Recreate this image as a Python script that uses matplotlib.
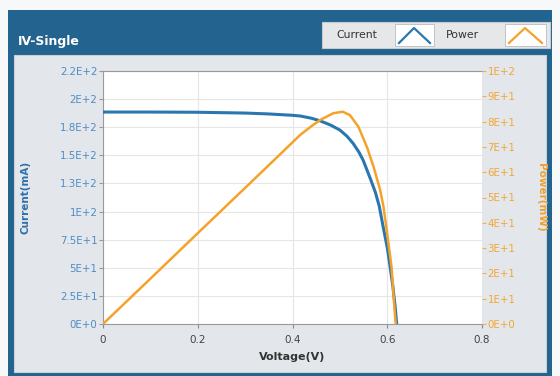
import matplotlib
matplotlib.use("Agg")
import matplotlib.pyplot as plt
from matplotlib.patches import Rectangle
from matplotlib.lines import Line2D

plt.rcParams['font.family'] = ['DejaVu Sans']

# ----------------------------------------------------------
# Data
# ----------------------------------------------------------
volt_i = [0.00, 0.10, 0.20, 0.30, 0.35, 0.40, 0.416, 0.44, 0.458, 0.48,
          0.50, 0.515, 0.528, 0.54, 0.549, 0.565, 0.575, 0.583, 0.592,
          0.60, 0.606, 0.612, 0.617, 0.620]
current = [188.5, 188.5, 188.3, 187.6, 186.8, 185.6, 185.0, 183.0, 180.7, 177.0,
           172.5, 167.0, 160.6, 153.0, 145.8, 128.5, 117.0, 105.0, 85.0,
           68.0, 51.0, 33.0, 14.0, 0.0]

volt_p = [0.00, 0.10, 0.20, 0.30, 0.374, 0.416, 0.44, 0.458, 0.486, 0.506,
          0.521, 0.539, 0.557, 0.571, 0.585, 0.592, 0.599, 0.609, 0.616, 0.618]
power = [0.0, 17.9, 35.9, 53.8, 67.1, 74.7, 78.2, 80.6, 83.3, 83.9,
         82.6, 78.0, 70.0, 62.2, 53.0, 46.4, 37.0, 22.6, 4.3, 0.0]

x_ticks = [0, 0.2, 0.4, 0.6, 0.8]
x_labels = ["0", "0.2", "0.4", "0.6", "0.8"]
i_ticks = [0, 25, 50, 75, 100, 125, 150, 175, 200, 225]
i_labels = ["0E+0", "2.5E+1", "5E+1", "7.5E+1", "1E+2", "1.3E+2",
            "1.5E+2", "1.8E+2", "2E+2", "2.2E+2"]
p_ticks = [0, 10, 20, 30, 40, 50, 60, 70, 80, 90, 100]
p_labels = ["0E+0", "1E+1", "2E+1", "3E+1", "4E+1", "5E+1", "6E+1",
            "7E+1", "8E+1", "9E+1", "1E+2"]

BLUE = "#2a77b0"
ORANGE = "#f5a22a"
W, H = 560, 376

fig = plt.figure(figsize=(W / 100, H / 100), dpi=100)
fig.patch.set_facecolor("#f7f8f9")


def px_rect(x0, y0, x1, y1, **kw):
    # rectangle given in pixel coords, y from top
    fig.add_artist(Rectangle((x0 / W, 1 - y1 / H), (x1 - x0) / W, (y1 - y0) / H,
                             transform=fig.transFigure, **kw))


def px_line(xs, ys, **kw):
    fig.add_artist(Line2D([x / W for x in xs], [1 - y / H for y in ys],
                          transform=fig.transFigure, **kw))


# frame: dark blue header panel + light inner panel (behind the axes)
px_rect(8, 10, 552, 376, facecolor="#22638f", edgecolor="none", zorder=-10)
px_rect(14, 55, 546, 372, facecolor="#e3e7eb", edgecolor="#c9d0d6", lw=0.8,
        zorder=-9)
fig.text(18 / W, 1 - 41 / H, "IV-Single", color="white", fontsize=9,
         fontweight="bold", va="center", ha="left")

# legend box
px_rect(322, 22, 550, 48, facecolor="#e6e7e8", edgecolor="#c8cbce", lw=0.8)
fig.text(357 / W, 1 - 35 / H, "Current", fontsize=7.8, color="#333333",
         va="center", ha="center")
px_rect(395, 24, 434, 46, facecolor="white", edgecolor="#b8bcc0", lw=0.6)
px_line([399, 414, 430], [43, 28, 43], color=BLUE, lw=1.6)
fig.text(462 / W, 1 - 35 / H, "Power", fontsize=7.8, color="#333333",
         va="center", ha="center")
px_rect(505, 24, 546, 46, facecolor="white", edgecolor="#b8bcc0", lw=0.6)
px_line([509, 525, 542], [43, 28, 43], color=ORANGE, lw=1.6)

# ----------------------------------------------------------
# Plot
# ----------------------------------------------------------
ax = fig.add_axes([103 / W, 1 - 324 / H, (482 - 103) / W, (324 - 71) / H])
ax.set_facecolor("white")
ax.plot(volt_i, current, color=BLUE, lw=2.2, solid_capstyle="round",
        solid_joinstyle="round", zorder=3)
ax.set_xlim(0, 0.8)
ax.set_ylim(0, 225)
ax.set_xticks(x_ticks, x_labels)
ax.set_yticks(i_ticks, i_labels)
ax.grid(True, color="#e6e6e6", lw=0.8)
ax.set_axisbelow(True)
ax.tick_params(axis="x", colors="#888888", labelcolor="#444444",
               labelsize=7.5, length=3, pad=5)
ax.tick_params(axis="y", colors="#999999", labelcolor="#4f8cc4",
               labelsize=7.4, length=3, pad=1)
for side in ["left", "bottom", "top"]:
    ax.spines[side].set_color("#9a9a9a")
    ax.spines[side].set_linewidth(0.8)
ax.spines["right"].set_visible(False)
ax.set_xlabel("Voltage(V)", fontsize=8, fontweight="bold", color="#333333",
              labelpad=5)
ax.set_ylabel("Current(mA)", fontsize=7.5, fontweight="bold", color="#2f70aa")
ax.yaxis.set_label_coords(-0.19, 0.5)

ax2 = ax.twinx()
ax2.plot(volt_p, power, color=ORANGE, lw=1.8, solid_capstyle="round",
         solid_joinstyle="round", zorder=3)
ax2.set_ylim(0, 100)
ax2.set_yticks(p_ticks, p_labels)
ax2.tick_params(axis="y", colors="#f0b050", labelcolor="#f2a635",
                labelsize=7.4, length=3, pad=1)
for side in ["left", "bottom", "top", "right"]:
    ax2.spines[side].set_visible(False)
ax2.set_ylabel("Power(mW)", fontsize=7.5, fontweight="bold", color="#f0a030",
               rotation=270, va="center")
ax2.yaxis.set_label_coords(1.155, 0.5)

fig.savefig("out.png", dpi=100, facecolor=fig.get_facecolor())
